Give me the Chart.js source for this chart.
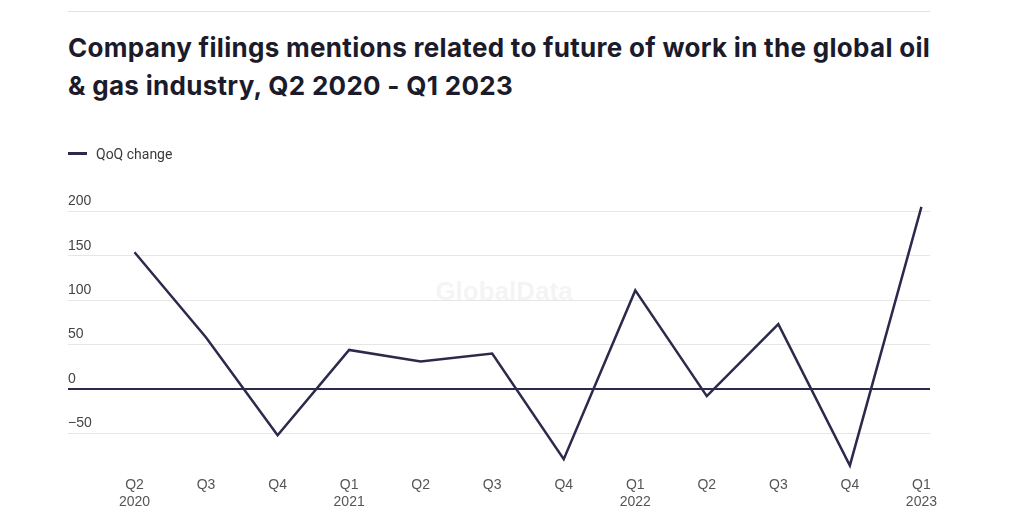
<!DOCTYPE html>
<html>
<head>
<meta charset="utf-8">
<script src="https://cdn.jsdelivr.net/npm/chart.js@4.4.0/dist/chart.umd.min.js"></script>
<style>
  body { margin: 0; background: #fff; }
  #wrap { position: relative; width: 1024px; height: 529px; overflow: hidden; }
  #rule { position: absolute; left: 68px; top: 11px; width: 862px; height: 1px; background: #e3e3e3; }
  #title {
    position: absolute; left: 68px; top: 29px; margin: 0;
    font-family: Inter, "Noto Sans", sans-serif; font-weight: 700;
    font-size: 26px; line-height: 38px; color: #1b1b2b; letter-spacing: 0.3px;
    white-space: nowrap;
  }
  #legend {
    position: absolute; left: 68px; top: 145px; height: 18px;
    font-family: Roboto, "Liberation Sans", sans-serif; font-size: 14px; color: #3a3a3a;
    line-height: 18px; white-space: nowrap;
  }
  #legend .swatch {
    display: inline-block; width: 19px; height: 2.5px; background: #2b2a4c;
    vertical-align: middle; margin-right: 9px; position: relative; top: -2px;
  }
  canvas { position: absolute; left: 0; top: 0; }
</style>
</head>
<body>
<div id="wrap">
  <div id="rule"></div>
  <h1 id="title">Company filings mentions related to future of work in the global oil<br>&amp; gas industry, Q2 2020 - Q1 2023</h1>
  <canvas id="chart" width="1024" height="529"></canvas>
  <div id="legend"><span class="swatch"></span>QoQ change</div>
</div>
<script>
// Trimestres (eixo x)
const quarters = ['Q2', 'Q3', 'Q4', 'Q1', 'Q2', 'Q3', 'Q4', 'Q1', 'Q2', 'Q3', 'Q4', 'Q1'];
const years = ['2020', '', '', '2021', '', '', '', '2022', '', '', '', '2023'];
// Variação trimestral
const qoqChange = [154, 58, -52, 44, 31, 40, -79, 111, -8, 73, -86, 205];
// Marcas do eixo y
const yTicks = [-50, 0, 50, 100, 150, 200];

const lineColor = '#2b2a4c';

// Marca d'água
const watermark = {
    id: 'watermark',
    beforeDatasetsDraw(chart) {
        const ctx = chart.ctx;
        ctx.save();
        ctx.font = 'bold 26px "Liberation Sans", Arial, sans-serif';
        ctx.fillStyle = '#f4f4f4';
        ctx.textAlign = 'center';
        ctx.textBaseline = 'middle';
        ctx.fillText('GlobalData', 504, 293);
        ctx.restore();
    }
};

const config = {
    type: 'line',
    data: {
        datasets: [{
            label: 'QoQ change',
            data: qoqChange.map((v, i) => ({ x: i, y: v })),
            borderColor: lineColor,
            backgroundColor: lineColor,
            borderWidth: 2.5,
            pointRadius: 0,
            tension: 0,
            clip: false
        }]
    },
    options: {
        responsive: false,
        animation: false,
        layout: { padding: { left: 68, right: 94, top: 206, bottom: 11 } },
        plugins: {
            legend: { display: false },
            tooltip: { enabled: false }
        },
        scales: {
            x: {
                type: 'linear',
                min: -0.93,
                max: 11.12,
                grid: { display: false, drawTicks: false },
                border: { display: false },
                afterBuildTicks: axis => {
                    axis.ticks = quarters.map((q, i) => ({ value: i }));
                },
                ticks: {
                    autoSkip: false,
                    maxRotation: 0,
                    padding: 7,
                    color: '#555',
                    font: { family: '"Liberation Sans", Arial, sans-serif', size: 14, lineHeight: 1.25 },
                    callback: function(value) {
                        const i = Math.round(value);
                        return years[i] ? [quarters[i], years[i]] : quarters[i];
                    }
                }
            },
            y: {
                min: -90,
                max: 206,
                border: { display: false },
                afterBuildTicks: axis => {
                    axis.ticks = yTicks.map(v => ({ value: v }));
                },
                grid: {
                    drawTicks: false,
                    color: ctx => ctx.tick && ctx.tick.value === 0 ? '#2b2a4c' : '#e6e6e6',
                    lineWidth: ctx => ctx.tick && ctx.tick.value === 0 ? 2 : 1
                },
                ticks: {
                    mirror: true,
                    padding: 0,
                    labelOffset: -10,
                    color: '#444',
                    font: { family: '"Liberation Sans", Arial, sans-serif', size: 14 },
                    callback: v => v < 0 ? '\u2212' + Math.abs(v) : String(v)
                }
            }
        }
    },
    plugins: [watermark]
};

const ctx = document.getElementById('chart').getContext('2d');
const chart = new Chart(ctx, config);
</script>
</body>
</html>
